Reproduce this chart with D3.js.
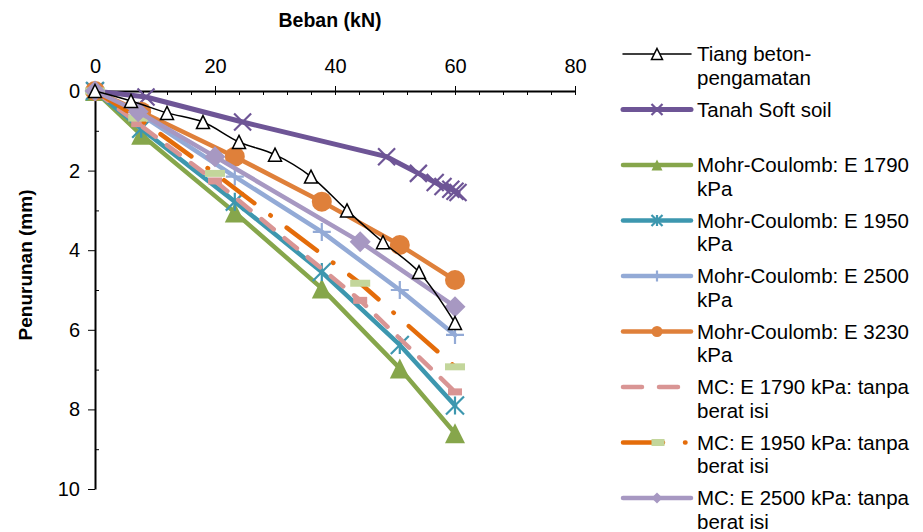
<!DOCTYPE html>
<html>
<head>
<meta charset="utf-8">
<script src="https://cdn.jsdelivr.net/npm/d3@7"></script>
<style>
  body { margin: 0; background: #fff; }
  text { font-family: "Liberation Sans", Arial, sans-serif; fill: #000; }
</style>
</head>
<body>
<div id="chart"></div>
<script>
var svgWidth = 923, svgHeight = 532;

// observed pile test
var obsLoad   = [0, 6, 12, 18, 24, 30, 36, 42, 48, 54, 60];
var obsSettle = [0, 0.25, 0.55, 0.78, 1.28, 1.6, 2.15, 3.0, 3.8, 4.55, 5.83];
// soft soil model
var softLoad   = [0, 8.5, 24.6, 48.6, 53.9, 56.7, 58, 59.3, 60, 60.5];
var softSettle = [0, 0.15, 0.78, 1.65, 2.07, 2.3, 2.4, 2.47, 2.52, 2.55];
// Mohr-Coulomb models
var mcLoad = [0, 7.7, 23.3, 37.8, 50.8, 60];
var mc1790 = [0, 1.1, 3.05, 4.96, 6.97, 8.6];
var mc1950 = [0, 0.95, 2.78, 4.55, 6.38, 7.9];
var mc2500 = [0, 0.6, 2.15, 3.54, 5.0, 6.13];
var mc3230 = [0, 0.52, 1.65, 2.78, 3.87, 4.75];
// MC without unit weight
var tanpaLoad = [0, 7.2, 20, 44.2, 60];
var tanpa1790 = [0, 0.82, 2.26, 5.26, 7.56];
var tanpa1950 = [0, 0.68, 2.07, 4.83, 6.93];
var tanpa2500 = [0, 0.52, 1.65, 3.79, 5.42];

var xTicks = [0, 20, 40, 60, 80];
var yTicks = [0, 2, 4, 6, 8, 10];

function pts(xs, ys) { return xs.map(function (d, i) { return [d, ys[i]]; }); }

// drawing order (black on top)
var series = [
  {name: ["Tanah Soft soil"], data: pts(softLoad, softSettle), color: "#6E5596", width: 5, marker: "x", msize: 17, mcolor: "#6E5596", leg: 1},
  {name: ["Mohr-Coulomb: E 1790", "kPa"], data: pts(mcLoad, mc1790), color: "#86A64B", width: 4.5, marker: "tri", msize: 20, mcolor: "#86A64B", leg: 2},
  {name: ["Mohr-Coulomb: E 1950", "kPa"], data: pts(mcLoad, mc1950), color: "#3D97AF", width: 4.5, marker: "star", msize: 18, mcolor: "#3D97AF", leg: 3},
  {name: ["Mohr-Coulomb: E 2500", "kPa"], data: pts(mcLoad, mc2500), color: "#93AAD6", width: 4.5, marker: "plus", msize: 18, mcolor: "#93AAD6", leg: 4},
  {name: ["Mohr-Coulomb: E 3230", "kPa"], data: pts(mcLoad, mc3230), color: "#DF803A", width: 4.5, marker: "circle", msize: 20, mcolor: "#DF803A", leg: 5},
  {name: ["MC: E 1790 kPa: tanpa", "berat isi"], data: pts(tanpaLoad, tanpa1790), color: "#D99594", width: 4.5, dash: "16,14", marker: "dash", msize: 14, mcolor: "#D99594", leg: 6},
  {name: ["MC: E 1950 kPa: tanpa", "berat isi"], data: pts(tanpaLoad, tanpa1950), color: "#E46C0A", width: 4.5, dash: "38,20,0.5,20", marker: "dash", msize: 20, mcolor: "#C3D69B", leg: 7},
  {name: ["MC: E 2500 kPa: tanpa", "berat isi"], data: pts(tanpaLoad, tanpa2500), color: "#A798C2", width: 4.5, marker: "diamond", msize: 21, mcolor: "#A798C2", leg: 8},
  {name: ["Tiang beton-", "pengamatan"], data: pts(obsLoad, obsSettle), color: "#000", width: 1.5, marker: "otri", msize: 13, mcolor: "#000", leg: 0, smooth: true}
];

var svg = d3.select("#chart").append("svg")
  .attr("width", svgWidth)
  .attr("height", svgHeight);

var x = d3.scaleLinear().domain([0, 80]).range([95, 575]);
var y = d3.scaleLinear().domain([0, 10]).range([91, 489]);

// marker shapes
function markerPath(type, s) {
  var h = s / 2;
  if (type == "tri" || type == "otri") return "M0," + (-h) + "L" + h + "," + h + "L" + (-h) + "," + h + "Z";
  if (type == "diamond") return "M0," + (-h) + "L" + h + ",0L0," + h + "L" + (-h) + ",0Z";
  if (type == "x") return "M" + (-h) + "," + (-h) + "L" + h + "," + h + "M" + h + "," + (-h) + "L" + (-h) + "," + h;
  if (type == "star") return "M" + (-h) + "," + (-h) + "L" + h + "," + h + "M" + h + "," + (-h) + "L" + (-h) + "," + h + "M0," + (-h) + "L0," + h;
  if (type == "plus") return "M0," + (-h) + "L0," + h + "M" + (-h) + ",0L" + h + ",0";
  if (type == "dash") return "M" + (-h) + ",-3.5L" + h + ",-3.5L" + h + ",3.5L" + (-h) + ",3.5Z";
  if (type == "circle") return d3.symbol(d3.symbolCircle, Math.PI * h * h)();
  return "";
}

function addMarker(g, s, cx, cy, size) {
  var p = g.append("path")
    .attr("transform", "translate(" + cx + "," + cy + ")")
    .attr("d", markerPath(s.marker, size));
  if (s.marker == "x" || s.marker == "star" || s.marker == "plus") {
    p.attr("fill", "none").attr("stroke", s.mcolor).attr("stroke-width", 2.2);
  } else if (s.marker == "otri") {
    p.attr("fill", "#fff").attr("stroke", "#000").attr("stroke-width", 1.5);
  } else {
    p.attr("fill", s.mcolor);
  }
}

// axes
var xAxis = svg.append("g")
  .attr("transform", "translate(0,91)")
  .call(d3.axisTop(x).tickValues(xTicks).tickSizeInner(5).tickSizeOuter(0).tickPadding(13));
var xMinor = svg.append("g")
  .attr("transform", "translate(0,91)")
  .call(d3.axisBottom(x).tickValues(d3.range(0, 81, 4)).tickSize(4).tickFormat(""));
xMinor.select(".domain").remove();

var yAxis = svg.append("g")
  .attr("transform", "translate(95,0)")
  .call(d3.axisLeft(y).tickValues(yTicks).tickSizeInner(7).tickSizeOuter(0).tickPadding(8));
var yMinor = svg.append("g")
  .attr("transform", "translate(95,0)")
  .call(d3.axisRight(y).tickValues([1, 3, 5, 7, 9]).tickSize(4).tickFormat(""));
yMinor.select(".domain").remove();

svg.selectAll(".domain").attr("stroke", "#000").attr("stroke-width", 2);
svg.selectAll(".tick line").attr("stroke", "#000").attr("stroke-width", 1);
svg.selectAll(".tick text")
  .attr("font-size", "20px")
  .attr("font-family", "Liberation Sans, Arial, sans-serif")
  .attr("fill", "#000");

// axis titles
svg.append("text")
  .attr("x", 330).attr("y", 27)
  .attr("text-anchor", "middle")
  .attr("font-size", "19.5px")
  .attr("font-weight", "bold")
  .text("Beban (kN)");

svg.append("text")
  .attr("transform", "translate(32,265) rotate(-90)")
  .attr("text-anchor", "middle")
  .attr("font-size", "19px")
  .attr("font-weight", "bold")
  .text("Penurunan (mm)");

// series
var plot = svg.append("g");
series.forEach(function (s) {
  var line = d3.line()
    .x(function (d) { return x(d[0]); })
    .y(function (d) { return y(d[1]); })
    .curve(s.smooth ? d3.curveCatmullRom.alpha(0.5) : d3.curveLinear);
  var g = plot.append("g");
  g.append("path")
    .datum(s.data)
    .attr("d", line)
    .attr("fill", "none")
    .attr("stroke", s.color)
    .attr("stroke-width", s.width)
    .attr("stroke-linecap", "round")
    .attr("stroke-linejoin", "round")
    .attr("stroke-dasharray", s.dash || null);
  s.data.forEach(function (d) {
    addMarker(g, s, x(d[0]), y(d[1]), s.msize);
  });
});

// legend
var legY = [54, 109.5, 165, 220.5, 276, 331.5, 387, 442.5, 498];
var legend = svg.append("g");
series.slice().sort(function (a, b) { return a.leg - b.leg; }).forEach(function (s) {
  var ly = legY[s.leg];
  var g = legend.append("g");
  g.append("line")
    .attr("x1", 623).attr("x2", 691)
    .attr("y1", ly).attr("y2", ly)
    .attr("stroke", s.color)
    .attr("stroke-width", s.width)
    .attr("stroke-linecap", "round")
    .attr("stroke-dasharray", s.marker == "dash" ? (s.leg == 6 ? "19,17" : "40,22,0.5,22") : null);
  var ms = s.marker == "dash" ? (s.leg == 6 ? 0 : 13) : Math.min(s.msize, 11);
  if (ms > 0) addMarker(g, s, s.marker == "dash" ? 658 : 657, ly, ms);
  s.name.forEach(function (t, i) {
    g.append("text")
      .attr("x", 697)
      .attr("y", ly + 7 + i * 23.5)
      .attr("font-size", "20.5px")
      .text(t);
  });
});
</script>
</body>
</html>
